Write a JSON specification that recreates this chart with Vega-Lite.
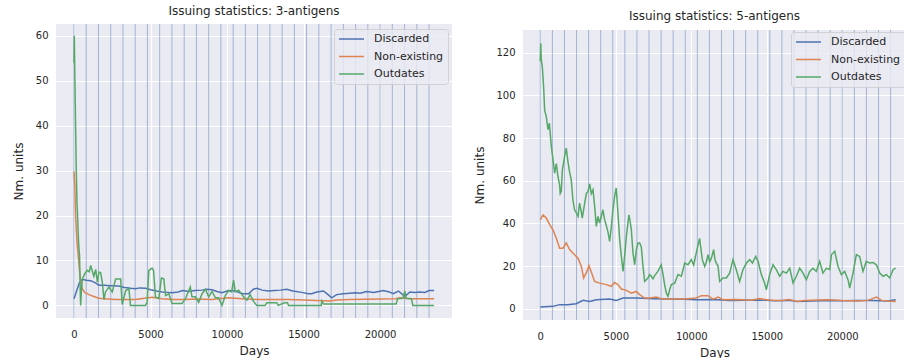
{
"$schema": "https://vega.github.io/schema/vega-lite/v6.json",
"background": "white",
"padding": {"left": 12, "top": 4, "right": 0, "bottom": 0},
"spacing": 21,
"config": {
  "view": {"fill": "#EAEAF2", "stroke": null},
  "axis": {"domain": false, "ticks": false, "gridColor": "white", "gridWidth": 1, "labelFont": "DejaVu Sans", "labelFontSize": 10, "labelColor": "#262626", "titleFont": "DejaVu Sans", "titleFontSize": 12, "titleFontWeight": "normal", "titleColor": "#262626"},
  "axisX": {"labelPadding": 11.5, "titlePadding": 5.5},
  "axisY": {"labelPadding": 8, "titlePadding": 9.5},
  "title": {"font": "DejaVu Sans", "fontSize": 12, "fontWeight": "normal", "color": "#262626", "baseline": "alphabetic", "offset": 6},
  "legend": {"orient": "none", "fillColor": "rgba(234,234,242,0.8)", "strokeColor": "rgba(204,204,204,0.8)", "cornerRadius": 3, "padding": 4, "labelFont": "DejaVu Sans", "labelFontSize": 11, "labelColor": "#262626", "symbolType": "stroke", "symbolSize": 625, "symbolStrokeWidth": 1.5, "labelOffset": 9, "clipHeight": 12, "rowPadding": 5.5, "title": null}
},
"resolve": {"legend": {"color": "independent"}, "scale": {"x": "independent", "y": "independent"}},
"datasets": {
  "vlines": [{"day":0},{"day":800},{"day":1600},{"day":2400},{"day":3200},{"day":4000},{"day":4800},{"day":5600},{"day":6400},{"day":7200},{"day":8000},{"day":8800},{"day":9600},{"day":10400},{"day":11200},{"day":12000},{"day":12800},{"day":13600},{"day":14400},{"day":15200},{"day":16000},{"day":16800},{"day":17600},{"day":18400},{"day":19200},{"day":20000},{"day":20800},{"day":21600},{"day":22400},{"day":23200}],
  "a3": [
{"series":"Discarded","day":0,"value":1.5},{"series":"Discarded","day":150,"value":3.0},{"series":"Discarded","day":350,"value":5.0},{"series":"Discarded","day":540,"value":5.8},{"series":"Discarded","day":800,"value":5.6},{"series":"Discarded","day":1100,"value":5.5},{"series":"Discarded","day":1400,"value":5.0},{"series":"Discarded","day":1630,"value":4.5},{"series":"Discarded","day":2000,"value":4.5},{"series":"Discarded","day":2400,"value":4.4},{"series":"Discarded","day":2930,"value":4.3},{"series":"Discarded","day":3300,"value":4.0},{"series":"Discarded","day":3700,"value":3.8},{"series":"Discarded","day":4020,"value":3.7},{"series":"Discarded","day":4300,"value":3.9},{"series":"Discarded","day":4680,"value":3.8},{"series":"Discarded","day":5000,"value":3.5},{"series":"Discarded","day":5400,"value":3.2},{"series":"Discarded","day":5760,"value":3.0},{"series":"Discarded","day":6100,"value":2.9},{"series":"Discarded","day":6410,"value":2.8},{"series":"Discarded","day":6800,"value":3.0},{"series":"Discarded","day":7100,"value":3.3},{"series":"Discarded","day":7500,"value":3.1},{"series":"Discarded","day":7900,"value":3.3},{"series":"Discarded","day":8360,"value":3.4},{"series":"Discarded","day":8690,"value":3.6},{"series":"Discarded","day":9020,"value":3.5},{"series":"Discarded","day":9350,"value":3.1},{"series":"Discarded","day":9670,"value":2.8},{"series":"Discarded","day":10100,"value":3.3},{"series":"Discarded","day":10540,"value":3.2},{"series":"Discarded","day":11000,"value":2.6},{"series":"Discarded","day":11410,"value":2.6},{"series":"Discarded","day":11720,"value":3.6},{"series":"Discarded","day":11950,"value":3.8},{"series":"Discarded","day":12300,"value":3.4},{"series":"Discarded","day":12710,"value":3.2},{"series":"Discarded","day":13100,"value":3.3},{"series":"Discarded","day":13500,"value":3.4},{"series":"Discarded","day":13900,"value":3.6},{"series":"Discarded","day":14300,"value":3.2},{"series":"Discarded","day":14880,"value":2.9},{"series":"Discarded","day":15320,"value":2.6},{"series":"Discarded","day":15530,"value":2.6},{"series":"Discarded","day":15860,"value":3.0},{"series":"Discarded","day":16300,"value":3.2},{"series":"Discarded","day":16600,"value":2.4},{"series":"Discarded","day":16840,"value":1.7},{"series":"Discarded","day":17160,"value":2.4},{"series":"Discarded","day":17600,"value":2.6},{"series":"Discarded","day":18030,"value":2.7},{"series":"Discarded","day":18360,"value":2.8},{"series":"Discarded","day":18700,"value":2.7},{"series":"Discarded","day":19120,"value":3.1},{"series":"Discarded","day":19600,"value":2.9},{"series":"Discarded","day":20210,"value":3.3},{"series":"Discarded","day":20600,"value":3.0},{"series":"Discarded","day":20860,"value":2.6},{"series":"Discarded","day":21200,"value":3.2},{"series":"Discarded","day":21620,"value":2.0},{"series":"Discarded","day":21950,"value":3.0},{"series":"Discarded","day":22270,"value":2.9},{"series":"Discarded","day":22600,"value":3.0},{"series":"Discarded","day":22920,"value":2.9},{"series":"Discarded","day":23200,"value":3.3},{"series":"Discarded","day":23530,"value":3.3},
{"series":"Non-existing","day":0,"value":29.8},{"series":"Non-existing","day":50,"value":27},{"series":"Non-existing","day":105,"value":20},{"series":"Non-existing","day":200,"value":14},{"series":"Non-existing","day":280,"value":11},{"series":"Non-existing","day":370,"value":7.4},{"series":"Non-existing","day":450,"value":5},{"series":"Non-existing","day":540,"value":3.7},{"series":"Non-existing","day":700,"value":2.9},{"series":"Non-existing","day":980,"value":2.4},{"series":"Non-existing","day":1300,"value":2.0},{"series":"Non-existing","day":1630,"value":1.6},{"series":"Non-existing","day":2000,"value":1.5},{"series":"Non-existing","day":2710,"value":1.3},{"series":"Non-existing","day":3500,"value":1.3},{"series":"Non-existing","day":4020,"value":1.3},{"series":"Non-existing","day":4600,"value":1.6},{"series":"Non-existing","day":5100,"value":1.8},{"series":"Non-existing","day":5760,"value":1.5},{"series":"Non-existing","day":6500,"value":1.3},{"series":"Non-existing","day":7280,"value":1.3},{"series":"Non-existing","day":8000,"value":1.4},{"series":"Non-existing","day":9000,"value":1.3},{"series":"Non-existing","day":10100,"value":1.7},{"series":"Non-existing","day":10500,"value":1.6},{"series":"Non-existing","day":11000,"value":1.5},{"series":"Non-existing","day":12000,"value":1.3},{"series":"Non-existing","day":13000,"value":1.3},{"series":"Non-existing","day":14000,"value":1.3},{"series":"Non-existing","day":15000,"value":1.2},{"series":"Non-existing","day":15860,"value":1.1},{"series":"Non-existing","day":16700,"value":1.0},{"series":"Non-existing","day":17200,"value":1.2},{"series":"Non-existing","day":18000,"value":1.3},{"series":"Non-existing","day":19000,"value":1.35},{"series":"Non-existing","day":20000,"value":1.4},{"series":"Non-existing","day":21000,"value":1.5},{"series":"Non-existing","day":21300,"value":1.7},{"series":"Non-existing","day":21900,"value":1.5},{"series":"Non-existing","day":22500,"value":1.5},{"series":"Non-existing","day":23530,"value":1.5},
{"series":"Outdates","day":0,"value":54},{"series":"Outdates","day":20,"value":60},{"series":"Outdates","day":60,"value":50},{"series":"Outdates","day":100,"value":41},{"series":"Outdates","day":150,"value":30},{"series":"Outdates","day":195,"value":23},{"series":"Outdates","day":250,"value":18.5},{"series":"Outdates","day":300,"value":14},{"series":"Outdates","day":365,"value":11},{"series":"Outdates","day":410,"value":3},{"series":"Outdates","day":435,"value":0},{"series":"Outdates","day":480,"value":3},{"series":"Outdates","day":550,"value":5.9},{"series":"Outdates","day":700,"value":7},{"series":"Outdates","day":870,"value":7.8},{"series":"Outdates","day":1000,"value":7.5},{"series":"Outdates","day":1090,"value":8.9},{"series":"Outdates","day":1200,"value":7.6},{"series":"Outdates","day":1300,"value":6.5},{"series":"Outdates","day":1420,"value":8},{"series":"Outdates","day":1530,"value":5.2},{"series":"Outdates","day":1630,"value":7.4},{"series":"Outdates","day":1740,"value":7.3},{"series":"Outdates","day":1850,"value":5.2},{"series":"Outdates","day":1960,"value":1.3},{"series":"Outdates","day":2060,"value":3},{"series":"Outdates","day":2280,"value":4.1},{"series":"Outdates","day":2500,"value":3},{"series":"Outdates","day":2720,"value":5.9},{"series":"Outdates","day":3050,"value":5.9},{"series":"Outdates","day":3150,"value":0.2},{"series":"Outdates","day":3380,"value":3.3},{"series":"Outdates","day":3590,"value":3.7},{"series":"Outdates","day":3690,"value":0},{"series":"Outdates","day":4670,"value":0},{"series":"Outdates","day":4780,"value":0.7},{"series":"Outdates","day":4890,"value":7.8},{"series":"Outdates","day":5100,"value":8.3},{"series":"Outdates","day":5200,"value":7.8},{"series":"Outdates","day":5320,"value":1.9},{"series":"Outdates","day":5540,"value":1.5},{"series":"Outdates","day":5710,"value":6.1},{"series":"Outdates","day":5870,"value":5.9},{"series":"Outdates","day":5980,"value":2.2},{"series":"Outdates","day":6200,"value":2.6},{"series":"Outdates","day":6410,"value":0.4},{"series":"Outdates","day":7060,"value":0.4},{"series":"Outdates","day":7280,"value":1.5},{"series":"Outdates","day":7600,"value":4.1},{"series":"Outdates","day":7710,"value":1.9},{"series":"Outdates","day":7930,"value":1.9},{"series":"Outdates","day":8150,"value":0.7},{"series":"Outdates","day":8370,"value":2.6},{"series":"Outdates","day":8590,"value":3.6},{"series":"Outdates","day":8800,"value":1.9},{"series":"Outdates","day":9020,"value":3.1},{"series":"Outdates","day":9240,"value":1.7},{"series":"Outdates","day":9450,"value":1.7},{"series":"Outdates","day":9670,"value":0},{"series":"Outdates","day":9890,"value":2.2},{"series":"Outdates","day":10100,"value":3.3},{"series":"Outdates","day":10300,"value":3.0},{"series":"Outdates","day":10430,"value":5.6},{"series":"Outdates","day":10540,"value":3.0},{"series":"Outdates","day":10760,"value":3.4},{"series":"Outdates","day":11080,"value":1.9},{"series":"Outdates","day":11300,"value":1.2},{"series":"Outdates","day":11510,"value":2.4},{"series":"Outdates","day":11730,"value":0.9},{"series":"Outdates","day":11950,"value":0},{"series":"Outdates","day":12480,"value":0},{"series":"Outdates","day":12600,"value":0.6},{"series":"Outdates","day":13240,"value":0.6},{"series":"Outdates","day":13350,"value":0},{"series":"Outdates","day":13750,"value":0.6},{"series":"Outdates","day":13950,"value":0.6},{"series":"Outdates","day":14020,"value":0},{"series":"Outdates","day":16150,"value":0},{"series":"Outdates","day":16200,"value":1.0},{"series":"Outdates","day":16300,"value":0.3},{"series":"Outdates","day":21050,"value":0.3},{"series":"Outdates","day":21150,"value":1.5},{"series":"Outdates","day":21500,"value":1.6},{"series":"Outdates","day":21620,"value":3.2},{"series":"Outdates","day":21700,"value":1.6},{"series":"Outdates","day":22050,"value":1.5},{"series":"Outdates","day":22140,"value":0},{"series":"Outdates","day":23530,"value":0}
  ],
  "a5": [
{"series":"Discarded","day":0,"value":0.8},{"series":"Discarded","day":840,"value":1.1},{"series":"Discarded","day":1280,"value":1.9},{"series":"Discarded","day":1800,"value":1.8},{"series":"Discarded","day":2380,"value":2.3},{"series":"Discarded","day":2830,"value":3.9},{"series":"Discarded","day":3270,"value":3.4},{"series":"Discarded","day":3710,"value":4.2},{"series":"Discarded","day":4590,"value":4.5},{"series":"Discarded","day":5030,"value":3.9},{"series":"Discarded","day":5480,"value":5.0},{"series":"Discarded","day":6360,"value":5.0},{"series":"Discarded","day":7500,"value":4.7},{"series":"Discarded","day":8500,"value":4.5},{"series":"Discarded","day":9500,"value":4.4},{"series":"Discarded","day":10330,"value":4.2},{"series":"Discarded","day":11500,"value":4.3},{"series":"Discarded","day":12500,"value":3.9},{"series":"Discarded","day":13500,"value":4.0},{"series":"Discarded","day":14500,"value":4.1},{"series":"Discarded","day":15500,"value":3.7},{"series":"Discarded","day":16500,"value":3.9},{"series":"Discarded","day":17000,"value":3.4},{"series":"Discarded","day":18000,"value":3.6},{"series":"Discarded","day":19000,"value":3.8},{"series":"Discarded","day":20000,"value":3.7},{"series":"Discarded","day":21000,"value":3.9},{"series":"Discarded","day":22000,"value":3.8},{"series":"Discarded","day":23000,"value":3.6},{"series":"Discarded","day":23540,"value":4.2},
{"series":"Non-existing","day":0,"value":41.7},{"series":"Non-existing","day":180,"value":44},{"series":"Non-existing","day":400,"value":42.5},{"series":"Non-existing","day":620,"value":39.4},{"series":"Non-existing","day":840,"value":37},{"series":"Non-existing","day":1060,"value":33},{"series":"Non-existing","day":1280,"value":28.4},{"series":"Non-existing","day":1500,"value":28.4},{"series":"Non-existing","day":1720,"value":30.8},{"series":"Non-existing","day":1940,"value":27.7},{"series":"Non-existing","day":2270,"value":25.3},{"series":"Non-existing","day":2500,"value":23.7},{"series":"Non-existing","day":2720,"value":19.8},{"series":"Non-existing","day":2870,"value":14.4},{"series":"Non-existing","day":3090,"value":17.5},{"series":"Non-existing","day":3220,"value":20.2},{"series":"Non-existing","day":3400,"value":16.7},{"series":"Non-existing","day":3600,"value":12.8},{"series":"Non-existing","day":3930,"value":12},{"series":"Non-existing","day":4370,"value":11.3},{"series":"Non-existing","day":4700,"value":10.5},{"series":"Non-existing","day":4920,"value":12.3},{"series":"Non-existing","day":5140,"value":11.3},{"series":"Non-existing","day":5370,"value":9.2},{"series":"Non-existing","day":5700,"value":8.6},{"series":"Non-existing","day":6030,"value":7.3},{"series":"Non-existing","day":6360,"value":8.1},{"series":"Non-existing","day":6580,"value":6.6},{"series":"Non-existing","day":6910,"value":5},{"series":"Non-existing","day":7240,"value":5},{"series":"Non-existing","day":7680,"value":5.5},{"series":"Non-existing","day":8100,"value":4.5},{"series":"Non-existing","day":9000,"value":4.5},{"series":"Non-existing","day":9600,"value":4.6},{"series":"Non-existing","day":10330,"value":5},{"series":"Non-existing","day":10660,"value":6.1},{"series":"Non-existing","day":11100,"value":6.1},{"series":"Non-existing","day":11440,"value":4.5},{"series":"Non-existing","day":11770,"value":5.5},{"series":"Non-existing","day":12100,"value":4.2},{"series":"Non-existing","day":13000,"value":4.3},{"series":"Non-existing","day":14000,"value":4.0},{"series":"Non-existing","day":14500,"value":4.8},{"series":"Non-existing","day":15000,"value":4.2},{"series":"Non-existing","day":15500,"value":3.8},{"series":"Non-existing","day":16000,"value":3.9},{"series":"Non-existing","day":16500,"value":4.3},{"series":"Non-existing","day":17000,"value":3.4},{"series":"Non-existing","day":17500,"value":3.8},{"series":"Non-existing","day":18000,"value":4.0},{"series":"Non-existing","day":19000,"value":4.2},{"series":"Non-existing","day":20000,"value":3.8},{"series":"Non-existing","day":21000,"value":3.6},{"series":"Non-existing","day":21700,"value":3.9},{"series":"Non-existing","day":22260,"value":5.5},{"series":"Non-existing","day":22600,"value":3.9},{"series":"Non-existing","day":23000,"value":3.6},{"series":"Non-existing","day":23540,"value":3.4},
{"series":"Outdates","day":0,"value":116},{"series":"Outdates","day":30,"value":124.5},{"series":"Outdates","day":60,"value":117},{"series":"Outdates","day":130,"value":113.6},{"series":"Outdates","day":220,"value":104},{"series":"Outdates","day":290,"value":93},{"series":"Outdates","day":400,"value":90},{"series":"Outdates","day":510,"value":84},{"series":"Outdates","day":600,"value":87},{"series":"Outdates","day":730,"value":76},{"series":"Outdates","day":840,"value":70},{"series":"Outdates","day":950,"value":63.6},{"series":"Outdates","day":1060,"value":68},{"series":"Outdates","day":1170,"value":62},{"series":"Outdates","day":1280,"value":58},{"series":"Outdates","day":1320,"value":54},{"series":"Outdates","day":1390,"value":55},{"series":"Outdates","day":1460,"value":65},{"series":"Outdates","day":1610,"value":71.4},{"series":"Outdates","day":1720,"value":75.3},{"series":"Outdates","day":1830,"value":69},{"series":"Outdates","day":1940,"value":64},{"series":"Outdates","day":2050,"value":60.5},{"series":"Outdates","day":2160,"value":51},{"series":"Outdates","day":2270,"value":46.4},{"series":"Outdates","day":2380,"value":45},{"series":"Outdates","day":2500,"value":43.3},{"series":"Outdates","day":2600,"value":49.5},{"series":"Outdates","day":2700,"value":46},{"series":"Outdates","day":2780,"value":42.5},{"series":"Outdates","day":2940,"value":49.5},{"series":"Outdates","day":3050,"value":54},{"series":"Outdates","day":3160,"value":55},{"series":"Outdates","day":3270,"value":58.5},{"series":"Outdates","day":3380,"value":54},{"series":"Outdates","day":3490,"value":55.8},{"series":"Outdates","day":3600,"value":48},{"series":"Outdates","day":3710,"value":38.6},{"series":"Outdates","day":3820,"value":43.3},{"series":"Outdates","day":3930,"value":40.2},{"series":"Outdates","day":4150,"value":46.4},{"series":"Outdates","day":4250,"value":42},{"series":"Outdates","day":4370,"value":39},{"series":"Outdates","day":4480,"value":36},{"series":"Outdates","day":4590,"value":31.6},{"series":"Outdates","day":4700,"value":38},{"series":"Outdates","day":4810,"value":46.4},{"series":"Outdates","day":4920,"value":52.7},{"series":"Outdates","day":5030,"value":56.6},{"series":"Outdates","day":5140,"value":45},{"series":"Outdates","day":5260,"value":32.3},{"series":"Outdates","day":5370,"value":24.5},{"series":"Outdates","day":5480,"value":17.5},{"series":"Outdates","day":5590,"value":25},{"series":"Outdates","day":5700,"value":34},{"series":"Outdates","day":5870,"value":44},{"series":"Outdates","day":5950,"value":41},{"series":"Outdates","day":6030,"value":37},{"series":"Outdates","day":6140,"value":26},{"series":"Outdates","day":6250,"value":20.6},{"series":"Outdates","day":6360,"value":27.7},{"series":"Outdates","day":6470,"value":30.8},{"series":"Outdates","day":6580,"value":30.8},{"series":"Outdates","day":6690,"value":29},{"series":"Outdates","day":6800,"value":20},{"series":"Outdates","day":6910,"value":12.8},{"series":"Outdates","day":7020,"value":13.6},{"series":"Outdates","day":7130,"value":14.4},{"series":"Outdates","day":7240,"value":16},{"series":"Outdates","day":7350,"value":15.2},{"series":"Outdates","day":7460,"value":14},{"series":"Outdates","day":7570,"value":15.5},{"series":"Outdates","day":7790,"value":17.5},{"series":"Outdates","day":8010,"value":20.6},{"series":"Outdates","day":8130,"value":16},{"series":"Outdates","day":8240,"value":11},{"series":"Outdates","day":8350,"value":7.3},{"series":"Outdates","day":8460,"value":5.8},{"series":"Outdates","day":8570,"value":9},{"series":"Outdates","day":8680,"value":11.3},{"series":"Outdates","day":8900,"value":12},{"series":"Outdates","day":9010,"value":14},{"series":"Outdates","day":9120,"value":16},{"series":"Outdates","day":9340,"value":15.2},{"series":"Outdates","day":9450,"value":18},{"series":"Outdates","day":9560,"value":21.4},{"series":"Outdates","day":9780,"value":20.6},{"series":"Outdates","day":10000,"value":23},{"series":"Outdates","day":10160,"value":20.5},{"series":"Outdates","day":10260,"value":24},{"series":"Outdates","day":10380,"value":27.7},{"series":"Outdates","day":10550,"value":33},{"series":"Outdates","day":10640,"value":28},{"series":"Outdates","day":10730,"value":23},{"series":"Outdates","day":10890,"value":19.8},{"series":"Outdates","day":11000,"value":22},{"series":"Outdates","day":11110,"value":25.3},{"series":"Outdates","day":11220,"value":22},{"series":"Outdates","day":11330,"value":23.7},{"series":"Outdates","day":11480,"value":27.7},{"series":"Outdates","day":11570,"value":23},{"series":"Outdates","day":11660,"value":21.4},{"series":"Outdates","day":11770,"value":20},{"series":"Outdates","day":11880,"value":12.8},{"series":"Outdates","day":12100,"value":14.4},{"series":"Outdates","day":12320,"value":14.4},{"series":"Outdates","day":12540,"value":16.7},{"series":"Outdates","day":12760,"value":23},{"series":"Outdates","day":12980,"value":18.3},{"series":"Outdates","day":13200,"value":12.8},{"series":"Outdates","day":13420,"value":18.3},{"series":"Outdates","day":13650,"value":21.4},{"series":"Outdates","day":13870,"value":23},{"series":"Outdates","day":14050,"value":21.4},{"series":"Outdates","day":14260,"value":24.5},{"series":"Outdates","day":14420,"value":22.2},{"series":"Outdates","day":14640,"value":16},{"series":"Outdates","day":14860,"value":12},{"series":"Outdates","day":14970,"value":8.9},{"series":"Outdates","day":15190,"value":16},{"series":"Outdates","day":15410,"value":20.6},{"series":"Outdates","day":15630,"value":18.3},{"series":"Outdates","day":15850,"value":15.2},{"series":"Outdates","day":16070,"value":17.5},{"series":"Outdates","day":16300,"value":16.7},{"series":"Outdates","day":16520,"value":19},{"series":"Outdates","day":16740,"value":12},{"series":"Outdates","day":16960,"value":15.2},{"series":"Outdates","day":17180,"value":19},{"series":"Outdates","day":17400,"value":16.7},{"series":"Outdates","day":17620,"value":13.6},{"series":"Outdates","day":17840,"value":17.5},{"series":"Outdates","day":18060,"value":19},{"series":"Outdates","day":18280,"value":17.5},{"series":"Outdates","day":18500,"value":22.2},{"series":"Outdates","day":18720,"value":16.7},{"series":"Outdates","day":18950,"value":19},{"series":"Outdates","day":19170,"value":18.3},{"series":"Outdates","day":19280,"value":25.3},{"series":"Outdates","day":19500,"value":26.9},{"series":"Outdates","day":19720,"value":19.8},{"series":"Outdates","day":19940,"value":16},{"series":"Outdates","day":20160,"value":17.5},{"series":"Outdates","day":20380,"value":13.6},{"series":"Outdates","day":20490,"value":9.7},{"series":"Outdates","day":20710,"value":16.7},{"series":"Outdates","day":20930,"value":25.3},{"series":"Outdates","day":21150,"value":24.5},{"series":"Outdates","day":21370,"value":17.5},{"series":"Outdates","day":21590,"value":22.2},{"series":"Outdates","day":21810,"value":21.4},{"series":"Outdates","day":22040,"value":21.7},{"series":"Outdates","day":22260,"value":20.6},{"series":"Outdates","day":22480,"value":16.7},{"series":"Outdates","day":22700,"value":15.2},{"series":"Outdates","day":22920,"value":16},{"series":"Outdates","day":23140,"value":14.4},{"series":"Outdates","day":23360,"value":18.3},{"series":"Outdates","day":23540,"value":19}
  ]
},
"hconcat": [
  {
    "title": {"text": "Issuing statistics: 3-antigens"},
    "width": 396, "height": 294,
    "layer": [
      {"data": {"name": "vlines"}, "mark": {"type": "rule", "color": "#4C72B0", "opacity": 0.45, "strokeWidth": 1},
       "encoding": {"x": {"field": "day", "type": "quantitative", "title": "Days", "scale": {"domain": [-1175, 24700], "nice": false, "zero": false}, "axis": {"values": [0, 5000, 10000, 15000, 20000], "format": "d"}}}},
      {"data": {"name": "a3"}, "mark": {"type": "line", "strokeWidth": 1.5},
       "encoding": {
         "x": {"field": "day", "type": "quantitative", "title": "Days", "scale": {"domain": [-1175, 24700], "nice": false, "zero": false}, "axis": {"values": [0, 5000, 10000, 15000, 20000], "format": "d"}},
         "y": {"field": "value", "type": "quantitative", "title": "Nm. units", "scale": {"domain": [-2.8, 62.6], "nice": false, "zero": false}, "axis": {"values": [0, 10, 20, 30, 40, 50, 60]}},
         "color": {"field": "series", "type": "nominal", "scale": {"domain": ["Discarded", "Non-existing", "Outdates"], "range": ["#4C72B0", "#DD8452", "#55A868"]}, "legend": {"legendX": 278, "legendY": 5}}
       }}
    ]
  },
  {
    "spacing": 4,
    "resolve": {"legend": {"color": "independent"}, "scale": {"x": "independent", "y": "independent"}},
    "vconcat": [
      {"width": 383, "height": 1, "title": {"text": "Issuing statistics: 5-antigens", "offset": 1}, "view": {"fill": null, "stroke": null}, "data": {"values": []}, "mark": {"type": "point", "opacity": 0}},
      {
        "width": 383, "height": 290,
        "layer": [
          {"data": {"name": "vlines"}, "mark": {"type": "rule", "color": "#4C72B0", "opacity": 0.45, "strokeWidth": 1},
           "encoding": {"x": {"field": "day", "type": "quantitative", "title": "Days", "scale": {"domain": [-1146, 24220], "nice": false, "zero": false}, "axis": {"values": [0, 5000, 10000, 15000, 20000], "format": "d"}}}},
          {"data": {"name": "a5"}, "mark": {"type": "line", "strokeWidth": 1.5},
           "encoding": {
             "x": {"field": "day", "type": "quantitative", "title": "Days", "scale": {"domain": [-1146, 24220], "nice": false, "zero": false}, "axis": {"values": [0, 5000, 10000, 15000, 20000], "format": "d"}},
             "y": {"field": "value", "type": "quantitative", "title": "Nm. units", "scale": {"domain": [-5.3, 130.7], "nice": false, "zero": false}, "axis": {"values": [0, 20, 40, 60, 80, 100, 120]}},
             "color": {"field": "series", "type": "nominal", "scale": {"domain": ["Discarded", "Non-existing", "Outdates"], "range": ["#4C72B0", "#DD8452", "#55A868"]}, "legend": {"legendX": 268, "legendY": 2}}
           }}
        ]
      }
    ]
  }
]
}
